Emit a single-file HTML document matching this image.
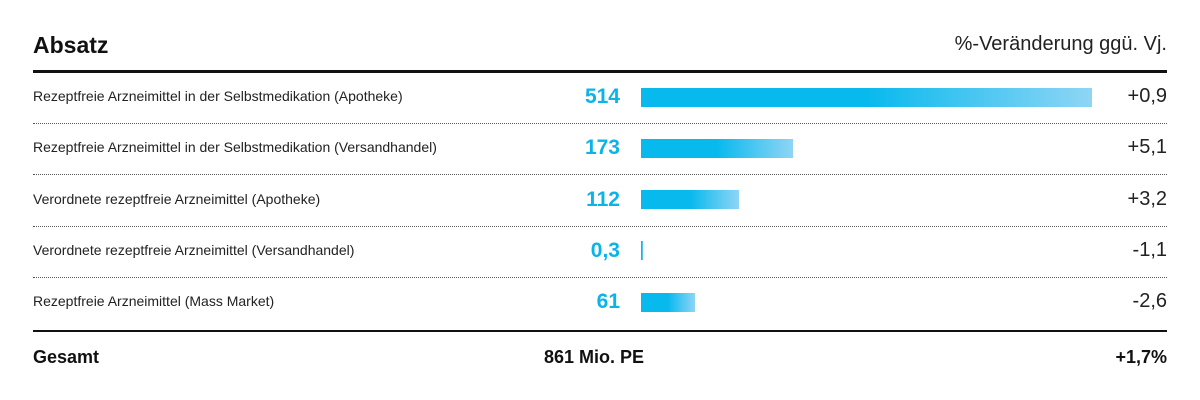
<!DOCTYPE html>
<html><head><meta charset="utf-8"><style>
body{margin:0;width:1200px;height:400px;background:#fff;font-family:"Liberation Sans",sans-serif;color:#111;position:relative;overflow:hidden}
.a{position:absolute;white-space:nowrap}
</style></head><body>
<div class="a" style="left:33px;top:32px;font-size:23px;font-weight:bold">Absatz</div>
<div class="a" style="right:33px;top:33px;font-size:20px;color:#222">%-Veränderung ggü. Vj.</div>
<div class="a" style="left:33px;top:70px;width:1134px;height:3px;background:#111"></div>
<div id="rows"></div>
<div class="a" style="left:33px;top:330px;width:1134px;height:2px;background:#111"></div>
<div class="a" style="left:33px;top:347px;font-size:18px;font-weight:bold">Gesamt</div>
<div class="a" style="right:556px;top:347px;font-size:18px;font-weight:bold">861 Mio. PE</div>
<div class="a" style="right:33px;top:347px;font-size:18px;font-weight:bold">+1,7%</div>
<script>
const categories=["Rezeptfreie Arzneimittel in der Selbstmedikation (Apotheke)","Rezeptfreie Arzneimittel in der Selbstmedikation (Versandhandel)","Verordnete rezeptfreie Arzneimittel (Apotheke)","Verordnete rezeptfreie Arzneimittel (Versandhandel)","Rezeptfreie Arzneimittel (Mass Market)"];
const values=[514,173,112,0.3,61];
const valueLabels=["514","173","112","0,3","61"];
const changes=["+0,9","+5,1","+3,2","-1,1","-2,6"];
const x0=641,scale=451/514,rowY0=97,rowH=51.3;
const root=document.getElementById('rows');
function xLen(v){return Math.max(1.5,v*scale);}
categories.forEach((c,i)=>{
 const cy=rowY0+i*rowH;
 const l=document.createElement('div');l.className='a';
 
 
 l.style.cssText=`left:33px;top:${cy-9}px;font-size:14px;color:#222`;l.textContent=c;root.appendChild(l);
 const v=document.createElement('div');v.className='a';
 
 
 v.style.cssText=`right:580px;top:${cy-12}px;font-size:21px;font-weight:bold;color:#0bb4e8`;v.textContent=valueLabels[i];root.appendChild(v);
 const b=document.createElement('div');b.className='a';
 
 
 b.style.cssText=`left:${x0}px;top:${cy-9.5}px;width:${xLen(values[i])}px;height:19px;background:linear-gradient(90deg,#08b9ee 0%,#08b9ee 50%,#8fd5f5 100%)`;root.appendChild(b);
 const ch=document.createElement('div');ch.className='a';
 
 
 ch.style.cssText=`right:33px;top:${cy-12}px;font-size:20px;color:#222`;ch.textContent=changes[i];root.appendChild(ch);
 if(i<categories.length-1){const d=document.createElement('div');d.className='a';
 
 
 d.style.cssText=`left:33px;top:${cy+26}px;width:1134px;border-top:1px dotted #555`;root.appendChild(d);}
});
</script>
</body></html>
